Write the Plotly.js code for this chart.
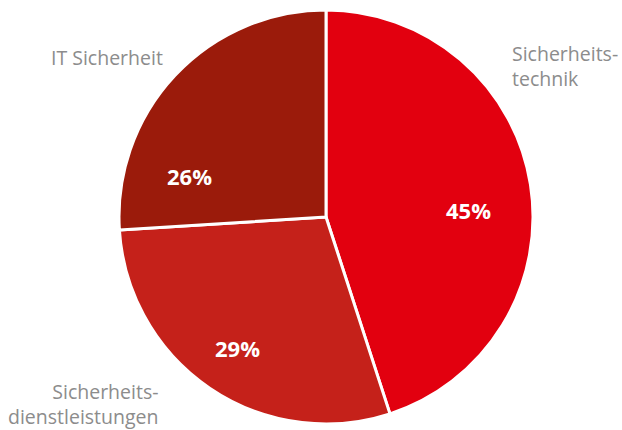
<!DOCTYPE html>
<html><head><meta charset="utf-8">
<script src="https://cdn.plot.ly/plotly-3.0.1.min.js"></script>
<style>html,body{margin:0;padding:0;background:#fff}#c{width:622px;height:430px}</style>
</head><body><div id="c"></div>
<script>
const categories = ["Sicherheitstechnik", "Sicherheitsdienstleistungen", "IT Sicherheit"];
const labelTexts = ["Sicherheits-<br>technik", "Sicherheits-<br>dienstleistungen", "IT Sicherheit"];
const values = [45, 29, 26];
const colors = ["#e2000f", "#c5211a", "#9b1b0b"];

const W = 622, H = 430, M = {l: 30, r: 0, t: 10, b: 6};
const pw = W - M.l - M.r, ph = H - M.t - M.b;
const px = x => (x - M.l) / pw;
const py = y => 1 - (y - M.t) / ph;

const trace = {
  type: "pie",
  labels: categories,
  values: values,
  sort: false,
  direction: "clockwise",
  rotation: 0,
  marker: {colors: colors, line: {color: "#ffffff", width: 3}},
  textinfo: "none",
  hoverinfo: "none",
  showlegend: false
};

// label / percent placement (pixel positions in the 622x430 picture)
const labelPos = [
  {x: 511, y: 66, xanchor: "left", align: "left"},
  {x: 159, y: 404, xanchor: "right", align: "right"},
  {x: 164, y: 57, xanchor: "right", align: "right"}
];
const pctPos = [{x: 468, y: 210}, {x: 237, y: 348}, {x: 189, y: 176}];

const total = values.reduce((a, b) => a + b, 0);
const annotations = [];
labelTexts.forEach((t, i) => annotations.push({
  text: t, xref: "paper", yref: "paper",
  x: px(labelPos[i].x), y: py(labelPos[i].y),
  xanchor: labelPos[i].xanchor, yanchor: "middle", align: labelPos[i].align,
  showarrow: false, borderpad: 0,
  font: {family: "Open Sans, sans-serif", size: 19.5, color: "#8c8c8c"}
}));
values.forEach((v, i) => annotations.push({
  text: Math.round(v / total * 100) + "%", xref: "paper", yref: "paper",
  x: px(pctPos[i].x), y: py(pctPos[i].y),
  xanchor: "center", yanchor: "middle", showarrow: false,
  font: {family: "Open Sans, sans-serif", size: 22, color: "#ffffff", weight: 700}
}));

Plotly.newPlot("c", [trace], {
  width: W, height: H,
  margin: M,
  paper_bgcolor: "#ffffff",
  annotations: annotations
}, {staticPlot: true});
</script></body></html>
